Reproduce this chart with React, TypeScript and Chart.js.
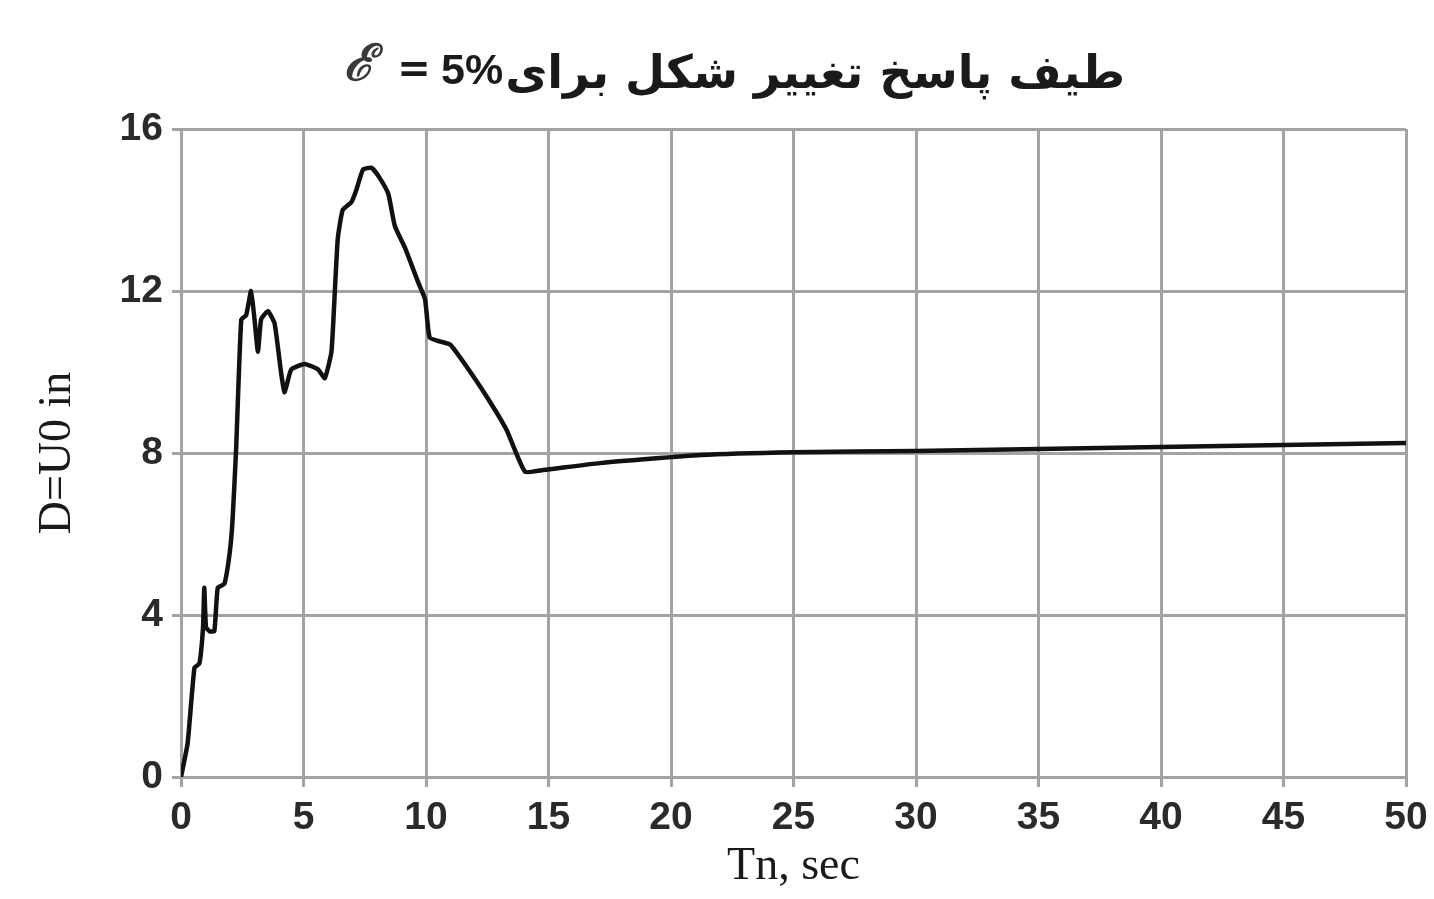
import React, { useEffect, useRef } from "react";
import { Chart, registerables } from "chart.js";

Chart.register(...registerables);

const titleArabic = "طیف پاسخ تغییر شکل برای";
const titleSymbol = "ℰ";
const titleEquals = "=";
const titlePercent = "5%";
const xAxisTitle = "Tn, sec";
const yAxisTitle = "D=U0 in";

const periods = [0, 0.27, 0.55, 0.75, 0.9, 0.95, 1.02, 1.16, 1.36, 1.5, 1.77, 1.98, 2.1, 2.25, 2.46, 2.66, 2.86, 3.0, 3.14, 3.27, 3.55, 3.82, 4.09, 4.23, 4.5, 5.05, 5.6, 5.87, 6.14, 6.28, 6.4, 6.6, 6.96, 7.16, 7.43, 7.78, 8.1, 8.46, 8.73, 9.14, 9.69, 9.96, 10.15, 10.6, 11.0, 11.66, 12.48, 13.29, 14.04, 14.79, 17.1, 21.2, 25, 30, 35, 40, 45, 50];
const deformation = [0, 0.83, 2.7, 2.8, 3.7, 4.67, 3.7, 3.6, 3.6, 4.67, 4.77, 5.5, 6.3, 8.1, 11.3, 11.4, 12.0, 11.3, 10.5, 11.3, 11.5, 11.2, 9.96, 9.5, 10.06, 10.2, 10.06, 9.85, 10.5, 12.0, 13.3, 14.0, 14.2, 14.5, 15.0, 15.04, 14.8, 14.4, 13.6, 13.07, 12.2, 11.8, 10.85, 10.75, 10.67, 10.13, 9.39, 8.57, 7.54, 7.58, 7.75, 7.95, 8.02, 8.05, 8.1, 8.15, 8.2, 8.25];

const xMin = 0;
const xMax = 50;
const xStep = 5;
const yMin = 0;
const yMax = 16;
const yStep = 4;

const titlePlugin = {
  id: "mixedTitle",
  afterDraw(chart: any) {
    const ctx = chart.ctx as CanvasRenderingContext2D;
    ctx.save();
    ctx.textBaseline = "alphabetic";
    ctx.textAlign = "left";
    // script epsilon
    ctx.fillStyle = "#3a3a3a";
    ctx.font = "bold italic 50px 'DejaVu Serif'";
    ctx.fillText(titleSymbol, 344, 80);
    // equals sign
    ctx.fillStyle = "#1a1a1a";
    ctx.font = "bold 40px 'DejaVu Sans'";
    ctx.textAlign = "center";
    ctx.fillText(titleEquals, 414, 82);
    // 5%
    ctx.textAlign = "left";
    ctx.font = "bold 43px 'Liberation Sans'";
    ctx.fillText(titlePercent, 441, 84);
    const pw = ctx.measureText(titlePercent).width;
    // arabic
    const startX = 441 + pw + 2;
    ctx.font = "bold 46px 'DejaVu Sans'";
    const aw = ctx.measureText(titleArabic).width;
    const targetW = 1125 - startX;
    ctx.translate(startX, 88);
    ctx.scale(targetW / aw, 1);
    ctx.fillText(titleArabic, 0, 0);
    ctx.restore();
  },
};

export default function App() {
  const ref = useRef<HTMLCanvasElement | null>(null);
  useEffect(() => {
    const canvas = ref.current;
    if (!canvas) return;
    const data = periods.map((x, i) => ({ x, y: deformation[i] }));
    const gridColor = "#a3a3a3";
    const chart = new Chart(canvas, {
      type: "scatter",
      data: {
        datasets: [
          {
            data,
            showLine: true,
            borderColor: "#111111",
            borderWidth: 4.5,
            pointRadius: 0,
            tension: 0.15,
            fill: false,
          },
        ],
      },
      options: {
        animation: false,
        responsive: true,
        maintainAspectRatio: false,
        layout: { padding: { top: 129, right: 28, left: 0, bottom: 0 } },
        plugins: { legend: { display: false }, title: { display: false }, tooltip: { enabled: false } },
        scales: {
          x: {
            type: "linear",
            min: xMin,
            max: xMax,
            ticks: {
              stepSize: xStep,
              color: "#2a2a2a",
              font: { family: "'Liberation Sans'", size: 39, weight: "bold" },
              padding: 8,
              maxRotation: 0,
            },
            grid: { color: gridColor, lineWidth: 3, tickLength: 10 },
            border: { color: gridColor, width: 3 },
            title: {
              display: true,
              text: xAxisTitle,
              color: "#1a1a1a",
              font: { family: "'Liberation Serif'", size: 46 },
              padding: { top: 0, bottom: 4 },
            },
            afterFit(scale: any) {
              scale.height = 122;
              scale.paddingRight = 20;
              scale.paddingLeft = 0;
            },
          },
          y: {
            type: "linear",
            min: yMin,
            max: yMax,
            ticks: {
              stepSize: yStep,
              color: "#2a2a2a",
              font: { family: "'Liberation Sans'", size: 39, weight: "bold" },
              padding: 9,
            },
            grid: { color: gridColor, lineWidth: 3, tickLength: 9 },
            border: { color: gridColor, width: 3 },
            title: {
              display: true,
              text: yAxisTitle,
              color: "#1a1a1a",
              font: { family: "'Liberation Serif'", size: 46 },
              padding: { top: 30, bottom: 0 },
            },
            afterFit(scale: any) {
              scale.width = 181;
            },
          },
        },
      },
      plugins: [titlePlugin],
    });
    return () => chart.destroy();
  }, []);
  return (
    <div style={{ position: "fixed", left: 0, top: 0, width: 1434, height: 899, background: "#ffffff" }}>
      <canvas ref={ref} />
    </div>
  );
}
